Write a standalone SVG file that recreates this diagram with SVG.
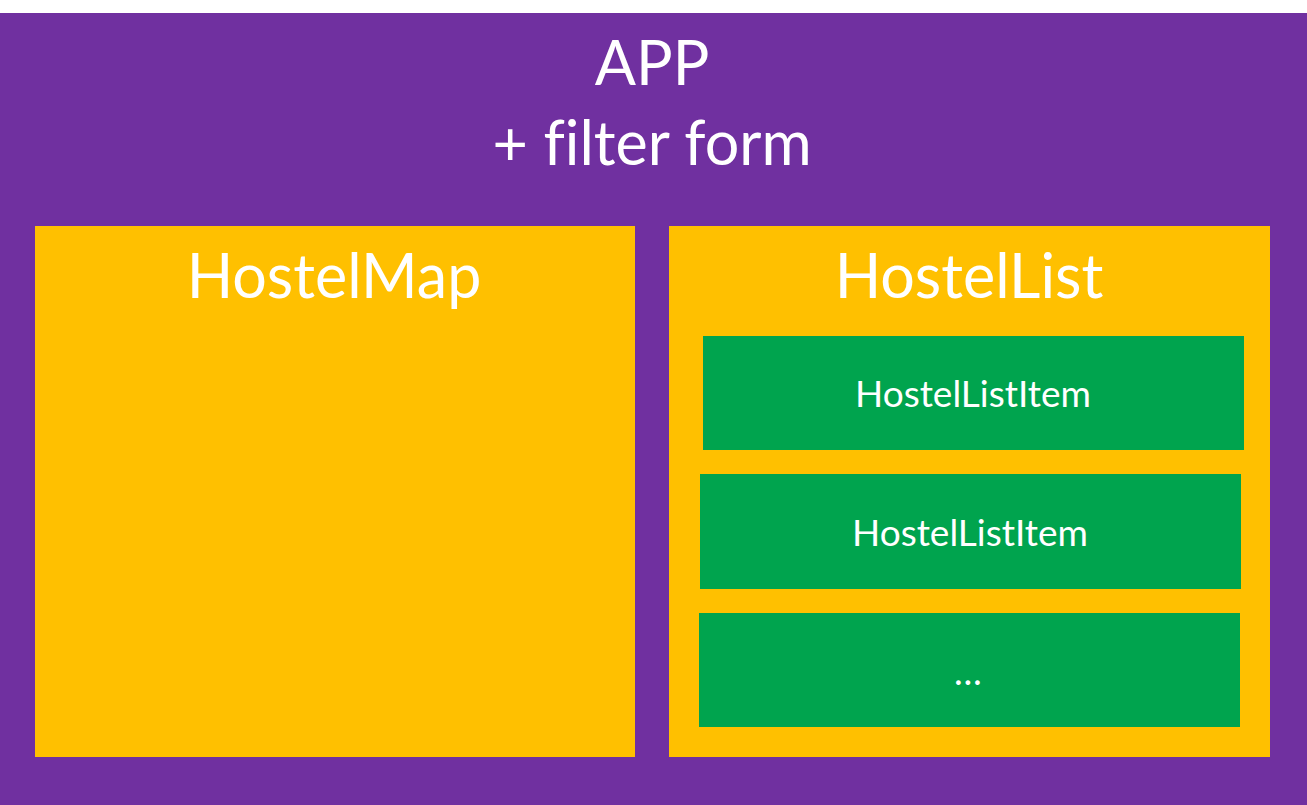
<svg xmlns="http://www.w3.org/2000/svg" width="1307" height="805" viewBox="0 0 1307 805">
<style>
.t{font-family:Lato,"Open Sans",sans-serif;fill:#fff;text-anchor:middle;font-variant-ligatures:none}
.big{font-size:61px}
.item{font-size:37px}
.purple{fill:#7030A0}
.yellow{fill:#FFC000}
.green{fill:#00A44E}
</style>
<rect width="1307" height="805" fill="#fff"/>
<g id="app">
<rect class="purple" x="0" y="13" width="1307" height="792"/>
<text class="t big" x="652" y="85">APP</text>
<text class="t big" x="652" y="165">+ filter form</text>
</g>
<g id="hostelmap">
<rect class="yellow" x="35" y="226" width="600" height="531"/>
<text class="t big" x="334" y="298">HostelMap</text>
</g>
<g id="hostellist">
<rect class="yellow" x="669" y="226" width="601" height="531"/>
<text class="t big" x="969" y="298">HostelList</text>
</g>
<g id="item1">
<rect class="green" x="703" y="336" width="541" height="114"/>
<text class="t item" x="973" y="407">HostelListItem</text>
</g>
<g id="item2">
<rect class="green" x="700" y="474" width="541" height="115"/>
<text class="t item" x="970" y="546">HostelListItem</text>
</g>
<g id="item3">
<rect class="green" x="699" y="613" width="541" height="114"/>
<text class="t item" x="968" y="685">…</text>
</g>
<g id="connectors"/>
</svg>
